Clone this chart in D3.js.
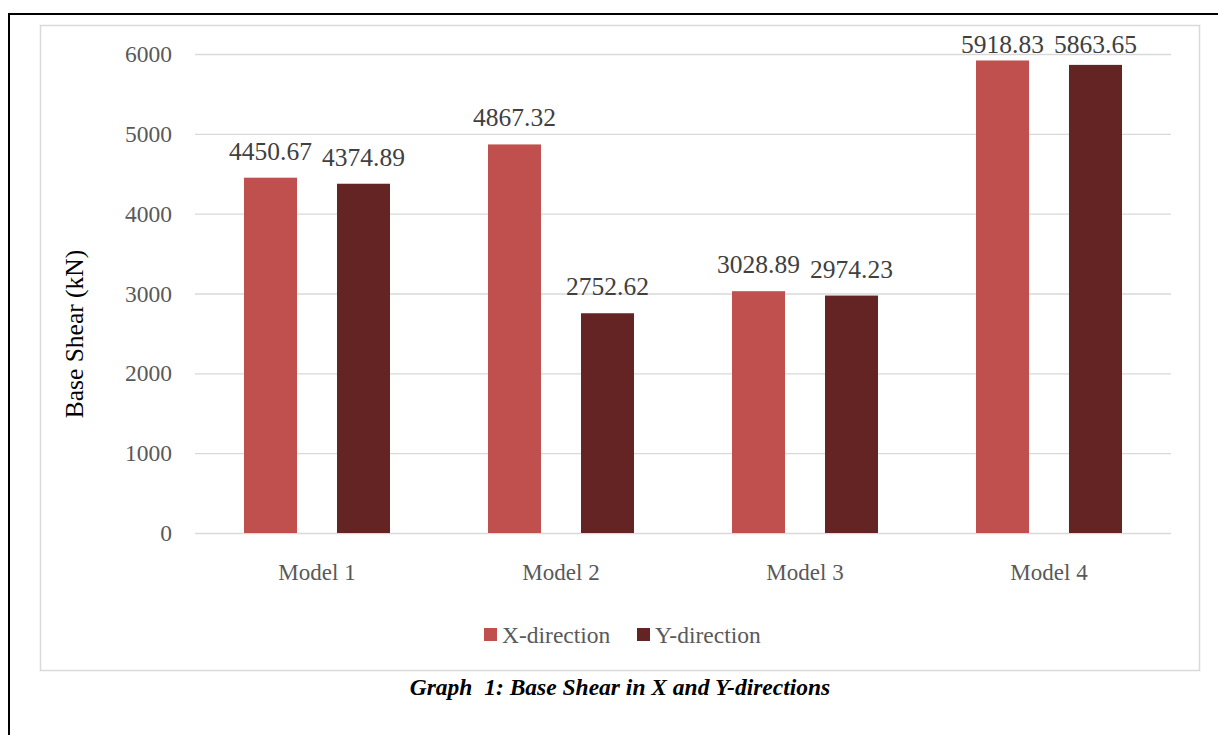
<!DOCTYPE html>
<html>
<head>
<meta charset="utf-8">
<script src="https://cdn.jsdelivr.net/npm/d3@7"></script>
<style>
    body { margin: 0; background: #fff; }
    svg text { font-family: "Liberation Serif", "Times New Roman", serif; }
</style>
</head>
<body>
<div id="the_chart"></div>
<script>
var models = ["Model 1", "Model 2", "Model 3", "Model 4"];
var series = ["X-direction", "Y-direction"];
var xValues = [4450.67, 4867.32, 3028.89, 5918.83];
var yValues = [4374.89, 2752.62, 2974.23, 5863.65];
var yTicks = [0, 1000, 2000, 3000, 4000, 5000, 6000];
var colors = ["#C0504D", "#632423"];

var dataset = models.map(function (m, i) {
    return { model: m, values: [xValues[i], yValues[i]] };
});

gen_chart();

function gen_chart() {
    var w = 1218;
    var h = 735;

    var svg = d3.select("#the_chart")
        .append("svg")
        .attr("width", w)
        .attr("height", h);

    // black page frame (only top and left visible)
    svg.append("path")
        .attr("d", "M9,735 L9,14 L1218,14")
        .attr("fill", "none")
        .attr("stroke", "#000")
        .attr("stroke-width", 2);

    // chart area border
    svg.append("rect")
        .attr("x", 40.5)
        .attr("y", 25.5)
        .attr("width", 1159)
        .attr("height", 645)
        .attr("fill", "none")
        .attr("stroke", "#d9d9d9")
        .attr("stroke-width", 1.5);

    var left = 195, right = 1171, top = 54, bottom = 533;

    var yscale = d3.scaleLinear()
        .domain([0, 6000])
        .range([bottom, top]);

    var x0 = d3.scaleBand()
        .domain(models)
        .range([left, right]);

    var x1 = d3.scaleBand()
        .domain(series)
        .range([49, x0.bandwidth() - 49])
        .paddingInner(0.43);

    // gridlines + tick labels
    var yaxis = d3.axisLeft(yscale)
        .tickValues(yTicks)
        .tickSize(-(right - left))
        .tickPadding(23)
        .tickFormat(d3.format("d"));

    var gY = svg.append("g")
        .attr("transform", "translate(" + left + ",0)")
        .call(yaxis);
    gY.select(".domain").remove();
    gY.selectAll(".tick line")
        .attr("stroke", "#d9d9d9")
        .attr("stroke-width", 1.3);
    gY.selectAll(".tick text")
        .attr("fill", "#595959")
        .style("font-size", "23.5px")
        .style("font-family", "'Liberation Serif', serif");

    // category labels
    var xaxis = d3.axisBottom(x0)
        .tickSize(0)
        .tickPadding(31);
    var gX = svg.append("g")
        .attr("transform", "translate(0," + bottom + ")")
        .call(xaxis);
    gX.select(".domain").remove();
    gX.selectAll(".tick text")
        .attr("fill", "#595959")
        .style("font-size", "23px")
        .style("font-family", "'Liberation Serif', serif");

    var groups = svg.selectAll("g.model")
        .data(dataset)
        .enter().append("g")
        .attr("class", "model")
        .attr("transform", function (d) {
            return "translate(" + x0(d.model) + ",0)";
        });

    var cells = groups.selectAll("g.cell")
        .data(function (d) {
            return series.map(function (s, i) {
                return { series: s, i: i, value: d.values[i] };
            });
        })
        .enter().append("g")
        .attr("class", "cell");

    cells.append("rect")
        .attr("x", function (d) { return x1(d.series); })
        .attr("y", function (d) { return yscale(d.value); })
        .attr("width", x1.bandwidth())
        .attr("height", function (d) { return bottom - yscale(d.value); })
        .attr("fill", function (d) { return colors[d.i]; });

    // labels sit 18px above bar, but not higher than the plot top
    cells.append("text")
        .attr("x", function (d) { return x1(d.series) + x1.bandwidth() / 2; })
        .attr("y", function (d) { return Math.max(yscale(d.value) - 18, 53); })
        .attr("text-anchor", "middle")
        .attr("fill", "#404040")
        .style("font-size", "25.5px")
        .text(function (d) { return d.value.toFixed(2); });

    // y axis title
    svg.append("text")
        .attr("transform", "translate(83,334) rotate(-90)")
        .attr("text-anchor", "middle")
        .attr("fill", "#000")
        .style("font-size", "25.5px")
        .text("Base Shear (kN)");

    // legend
    var legendX = [484, 637];
    var legend = svg.selectAll("g.legend")
        .data(series)
        .enter().append("g")
        .attr("class", "legend")
        .attr("transform", function (d, i) {
            return "translate(" + legendX[i] + ",628)";
        });
    legend.append("rect")
        .attr("width", 13)
        .attr("height", 13)
        .attr("fill", function (d, i) { return colors[i]; });
    legend.append("text")
        .attr("x", 18)
        .attr("y", 15)
        .attr("fill", "#595959")
        .style("font-size", "23.5px")
        .text(function (d) { return d; });

    // caption
    svg.append("text")
        .attr("x", 620)
        .attr("y", 695)
        .attr("text-anchor", "middle")
        .attr("fill", "#000")
        .style("font-size", "23.5px")
        .style("font-weight", "bold")
        .style("font-style", "italic")
        .style("white-space", "pre")
        .text("Graph  1: Base Shear in X and Y-directions");
}
</script>
</body>
</html>
